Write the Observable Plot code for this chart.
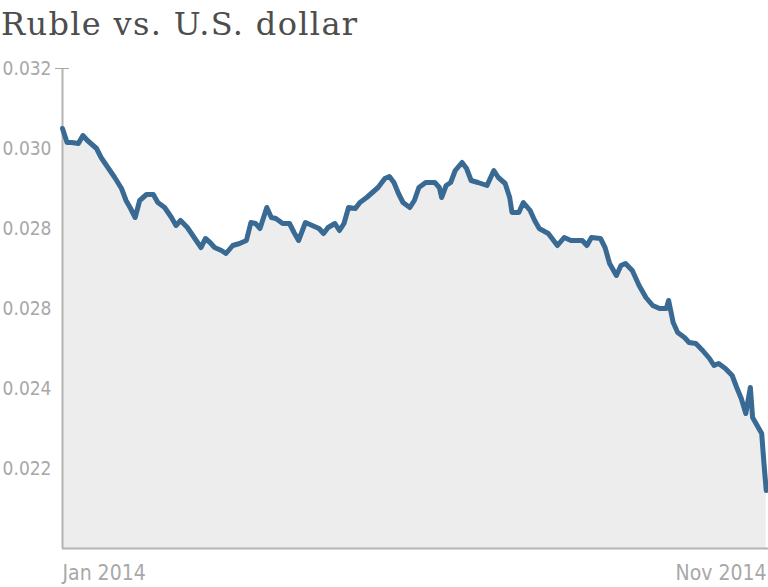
<!DOCTYPE html>
<html>
<head>
<meta charset="utf-8">
<script src="https://cdn.jsdelivr.net/npm/d3@7"></script>
<script src="https://cdn.jsdelivr.net/npm/@observablehq/plot@0.6"></script>
<style>
  html, body { margin: 0; padding: 0; background: #fff; }
  #chart { width: 768px; height: 587px; position: relative; overflow: hidden; }
  #title { position: absolute; left: 1px; top: 0; height: 50px; line-height: 48px;
           font-family: "DejaVu Serif", serif; font-size: 32px; color: #4d4d4d; white-space: nowrap; display: inline-block; }
  #plot { position: absolute; left: 0; top: 50px; }
</style>
</head>
<body>
<div id="chart">
  <div id="title"></div>
  <div id="plot"></div>
</div>
<script>
const title = "Ruble vs. U.S. dollar";

const dates = [
  "2014-01-01","2014-01-03","2014-01-05","2014-01-08","2014-01-10","2014-01-12","2014-01-16","2014-01-18",
  "2014-01-21","2014-01-24","2014-01-27","2014-01-29","2014-01-31","2014-02-02","2014-02-04","2014-02-07",
  "2014-02-10","2014-02-12","2014-02-15","2014-02-18","2014-02-20","2014-02-22","2014-02-25","2014-02-28",
  "2014-03-03","2014-03-05","2014-03-07","2014-03-09","2014-03-12","2014-03-14","2014-03-17","2014-03-20",
  "2014-03-23","2014-03-25","2014-03-27","2014-03-29","2014-04-01","2014-04-03","2014-04-05","2014-04-08",
  "2014-04-11","2014-04-13","2014-04-15","2014-04-18","2014-04-21","2014-04-24","2014-04-26","2014-04-28",
  "2014-05-01","2014-05-03","2014-05-05","2014-05-07","2014-05-10","2014-05-12","2014-05-15","2014-05-17",
  "2014-05-20","2014-05-23","2014-05-25","2014-05-27","2014-05-29","2014-05-31","2014-06-03","2014-06-05",
  "2014-06-07","2014-06-10","2014-06-14","2014-06-16","2014-06-17","2014-06-19","2014-06-21","2014-06-23",
  "2014-06-26","2014-06-28","2014-06-30","2014-07-03","2014-07-07","2014-07-08","2014-07-10","2014-07-12",
  "2014-07-15","2014-07-17","2014-07-18","2014-07-21","2014-07-23","2014-07-26","2014-07-28","2014-07-30",
  "2014-08-03","2014-08-07","2014-08-10","2014-08-13","2014-08-18","2014-08-20","2014-08-22","2014-08-26",
  "2014-08-28","2014-08-30","2014-09-02","2014-09-04","2014-09-06","2014-09-09","2014-09-12","2014-09-15",
  "2014-09-18","2014-09-21","2014-09-24","2014-09-25","2014-09-27","2014-09-29","2014-10-02","2014-10-04",
  "2014-10-07","2014-10-10","2014-10-13","2014-10-15","2014-10-17","2014-10-20","2014-10-23","2014-10-25",
  "2014-10-27","2014-10-29","2014-10-31","2014-11-01","2014-11-03","2014-11-05","2014-11-06","2014-11-07"
];

const rates = [
  0.03050,0.03015,0.03015,0.030125,0.030325,0.03020,0.03000,0.029775,
  0.029525,0.029275,0.02900,0.02870,0.02850,0.028275,0.02870,0.02885,
  0.02885,0.02865,0.028525,0.028275,0.028075,0.02820,0.028025,0.027775,
  0.027525,0.02775,0.02765,0.027525,0.02745,0.027375,0.027575,0.027625,
  0.02770,0.02815,0.028125,0.02800,0.028525,0.028275,0.02825,0.028125,
  0.028125,0.02790,0.02770,0.02815,0.028075,0.02800,0.027875,0.028025,
  0.028125,0.02795,0.028125,0.028525,0.02850,0.02865,0.028775,0.028875,
  0.029025,0.02925,0.02930,0.02915,0.028875,0.02865,0.028525,0.02870,
  0.029025,0.02915,0.02915,0.029025,0.028775,0.029075,0.02915,0.02945,
  0.02965,0.02950,0.02920,0.02915,0.029075,0.02920,0.02945,0.029275,
  0.029125,0.028775,0.02840,0.02840,0.02865,0.02845,0.02820,0.02800,
  0.027875,0.027575,0.027775,0.02770,0.02770,0.027575,0.027775,0.02775,
  0.027525,0.027125,0.026825,0.027075,0.027125,0.02695,0.026575,0.026275,
  0.026075,0.02600,0.02600,0.02620,0.02565,0.02540,0.025275,0.02515,
  0.025125,0.02495,0.02475,0.024575,0.024625,0.02450,0.024325,0.024025,
  0.02375,0.023375,0.024025,0.023275,0.023075,0.022875,0.022125,0.02145
];

const yTicks = [0.032, 0.030, 0.028, 0.026, 0.024, 0.022];
const yTickLabels = ["0.032", "0.030", "0.028", "0.028", "0.024", "0.022"];
const xTickDates = ["2014-01-01", "2014-11-08"];
const xTickLabels = ["Jan 2014", "Nov 2014"];
const yDomain = [0.020, 0.032];

// title, stretched to the reference's width
const titleEl = document.getElementById("title");
titleEl.textContent = title;
const tw = titleEl.getBoundingClientRect().width;
const ls = (356 - tw) / (title.length - 1);
titleEl.style.letterSpacing = ls.toFixed(2) + "px";

const data = dates.map((d, i) => ({date: new Date(d + "T00:00:00Z"), rate: rates[i]}));
const xStart = new Date(xTickDates[0] + "T00:00:00Z");
const xEnd = new Date(xTickDates[1] + "T00:00:00Z");

const tickFont = "'DejaVu Sans Condensed', 'Liberation Sans Narrow', sans-serif";

const chart = Plot.plot({
  width: 768,
  height: 537,
  marginTop: 18,
  marginBottom: 39,
  marginLeft: 62,
  marginRight: 0,
  style: {fontFamily: tickFont, fontSize: "19px", color: "#a8a8a8", background: "transparent", overflow: "visible"},
  x: {type: "utc", domain: [xStart, xEnd]},
  y: {domain: yDomain},
  marks: [
    Plot.areaY(data, {x: "date", y1: yDomain[0], y2: "rate", fill: "#ededed"}),
    Plot.ruleX([xStart], {stroke: "#b4b4b4", strokeWidth: 2}),
    Plot.ruleY([yDomain[0]], {stroke: "#b4b4b4", strokeWidth: 2}),
    Plot.axisY({ticks: yTicks, tickSize: 0, tickPadding: 11,
      tickFormat: (d) => yTickLabels[yTicks.findIndex(t => Math.abs(t - d) < 1e-9)],
      fill: "#a8a8a8", label: null}),
    Plot.axisY({ticks: [yTicks[0]], tickSize: 14, dx: 7, tickFormat: () => "", stroke: "#a8a8a8", label: null}),
    Plot.axisX({ticks: [xStart], tickSize: 0, tickPadding: 17, textAnchor: "start", fontSize: 21,
      tickFormat: () => xTickLabels[0], fill: "#a8a8a8", label: null}),
    Plot.axisX({ticks: [xEnd], tickSize: 0, tickPadding: 17, textAnchor: "end", dx: -2, fontSize: 21,
      tickFormat: () => xTickLabels[1], fill: "#a8a8a8", label: null}),
    Plot.line(data, {x: "date", y: "rate", stroke: "#386a94", strokeWidth: 5, strokeLinejoin: "round", strokeLinecap: "round"})
  ]
});
document.getElementById("plot").appendChild(chart);
</script>
</body>
</html>
